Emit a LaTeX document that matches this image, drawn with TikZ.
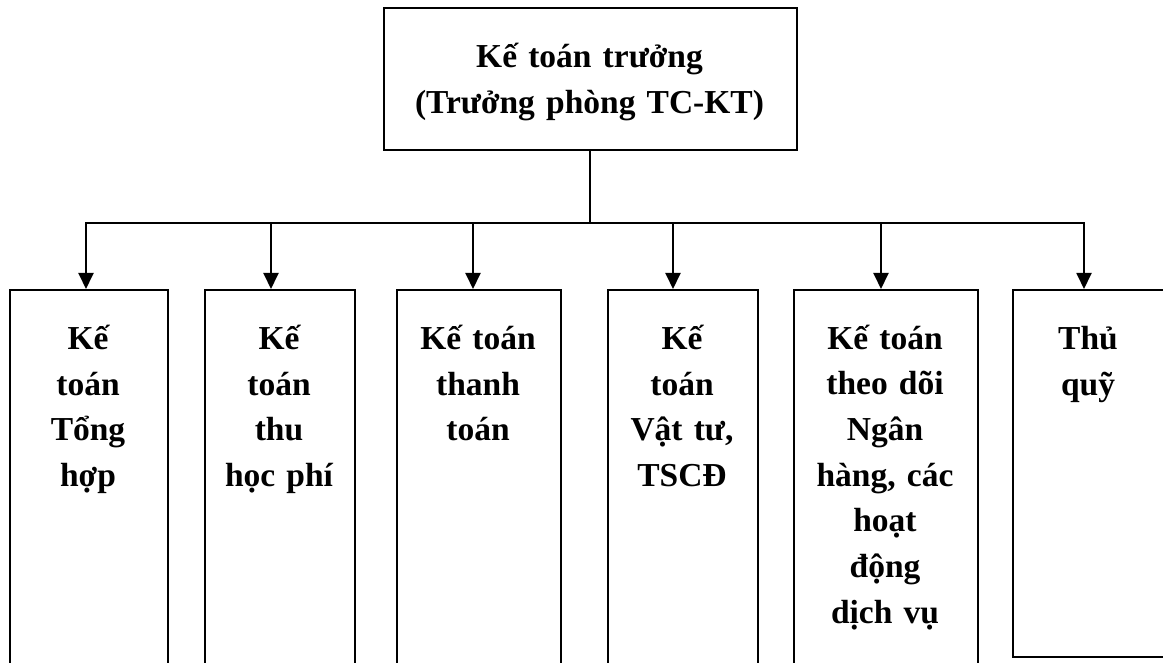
\documentclass[tikz,border=0pt]{standalone}
\usepackage{fontspec}
\setmainfont{Liberation Serif}
\usetikzlibrary{arrows.meta}

\begin{document}
\begin{tikzpicture}[x=1pt,y=-1pt,
  frame/.style={draw=black,line width=1.7pt,rectangle,inner sep=0pt,anchor=north west},
  caption/.style={anchor=base,align=center,inner sep=0pt,
    font=\bfseries\fontsize{33.5}{46}\selectfont},
  link/.style={line width=1.9pt},
  arr/.style={line width=1.9pt,-{Triangle[length=16pt,width=15pt]}}]
\useasboundingbox (0,0) rectangle (1163,663);
\clip (0,0) rectangle (1163,663);

% head of the accounting department
\node[frame,minimum width=413pt,minimum height=142pt] (head) at (383,7) {};
\node[caption,text width=400pt] (headtxt) at (589.5,68) {Kế toán trưởng\\(Trưởng phòng TC-KT)};

% staff boxes (running past the lower edge)
\node[frame,minimum width=158pt,minimum height=420pt] (b1) at (9,289) {};
\node[frame,minimum width=150pt,minimum height=420pt] (b2) at (204,289) {};
\node[frame,minimum width=164pt,minimum height=420pt] (b3) at (396,289) {};
\node[frame,minimum width=150pt,minimum height=420pt] (b4) at (607,289) {};
\node[frame,minimum width=184pt,minimum height=420pt] (b5) at (793,289) {};
\node[frame,minimum width=152pt,minimum height=367pt] (b6) at (1012,289) {};

\node[caption,text width=150pt] (t1) at (88,349) {Kế\\toán\\Tổng\\hợp};
\node[caption,text width=145pt] (t2) at (279,349) {Kế\\toán\\thu\\học phí};
\node[caption,text width=160pt] (t3) at (478,349) {Kế toán\\thanh\\toán};
\node[caption,text width=145pt] (t4) at (682,349) {Kế\\toán\\Vật tư,\\TSCĐ};
\node[caption,text width=180pt,font=\bfseries\fontsize{33.5}{45.7}\selectfont] (t5) at (885,349)
  {Kế toán\\theo dõi\\Ngân\\hàng, các\\hoạt\\động\\dịch vụ};
\node[caption,text width=145pt] (t6) at (1088,349) {Thủ\\quỹ};

% distribution bus
\coordinate (j1) at (86,223);
\coordinate (j2) at (271,223);
\coordinate (j3) at (473,223);
\coordinate (j4) at (673,223);
\coordinate (j5) at (881,223);
\coordinate (j6) at (1084,223);

\draw[link] (head.south) -- (head.south |- j1);
\draw[link] ([xshift=-0.95pt]j1) -- ([xshift=0.95pt]j6);
\draw[arr] ([yshift=-0.95pt]j1) -- (j1 |- b1.north);
\draw[arr] (j2) -- (j2 |- b2.north);
\draw[arr] (j3) -- (j3 |- b3.north);
\draw[arr] (j4) -- (j4 |- b4.north);
\draw[arr] (j5) -- (j5 |- b5.north);
\draw[arr] ([yshift=-0.95pt]j6) -- (j6 |- b6.north);
\end{tikzpicture}
\end{document}
